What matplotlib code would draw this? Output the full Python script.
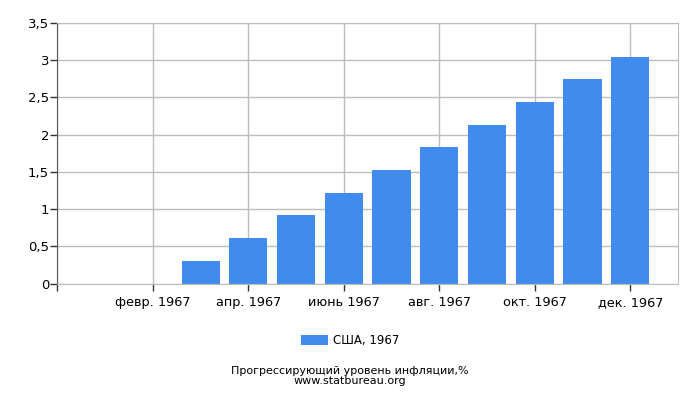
import matplotlib
matplotlib.use("Agg")
import matplotlib.pyplot as plt
from matplotlib.ticker import FuncFormatter

months = ["янв. 1967", "февр. 1967", "март 1967", "апр. 1967", "май 1967", "июнь 1967",
          "июль 1967", "авг. 1967", "сент. 1967", "окт. 1967", "нояб. 1967", "дек. 1967"]
values = [0.0, 0.0, 0.30, 0.61, 0.92, 1.21, 1.52, 1.83, 2.13, 2.44, 2.74, 3.04]
series_label = "США, 1967"
caption = "Прогрессирующий уровень инфляции,%\nwww.statbureau.org"

bar_color = "#418bed"
grid_color = "#bdbdbd"

fig = plt.figure(figsize=(7, 4), dpi=100)
ax = fig.add_axes([0.082, 0.291, 0.8866, 0.652])

x = list(range(len(months)))
ax.bar(x, values, width=0.8, color=bar_color, label=series_label, zorder=2)

ax.set_xlim(-1, 12)
ax.set_ylim(0, 3.5)

# ticks every two months, plus the unlabeled corner tick
tick_pos = [-1] + x[1::2]
tick_lab = [""] + months[1::2]
ax.set_xticks(tick_pos)
ax.set_xticklabels(tick_lab, fontsize=9.3)
ax.set_yticks([i * 0.5 for i in range(8)])
ax.yaxis.set_major_formatter(FuncFormatter(lambda v, p: ("%g" % v).replace(".", ",")))
ax.tick_params(axis="y", labelsize=9.5, length=5, width=1, color="#333333", pad=1)
ax.tick_params(axis="x", length=5, width=1, color="#333333", pad=4)

ax.grid(True, color=grid_color, linewidth=1, zorder=0)
ax.set_axisbelow(True)
for side in ["top", "right"]:
    ax.spines[side].set_color(grid_color)
ax.spines["left"].set_color("#555555")
ax.spines["bottom"].set_color(grid_color)

fig.legend(loc="center", bbox_to_anchor=(0.5, 0.148), frameon=False, fontsize=8.5,
           handlelength=2.3, handleheight=0.9, handletextpad=0.4)
fig.text(0.5, 0.06, caption, ha="center", va="center", fontsize=8, linespacing=0.95)

fig.savefig("out.png", dpi=100)
